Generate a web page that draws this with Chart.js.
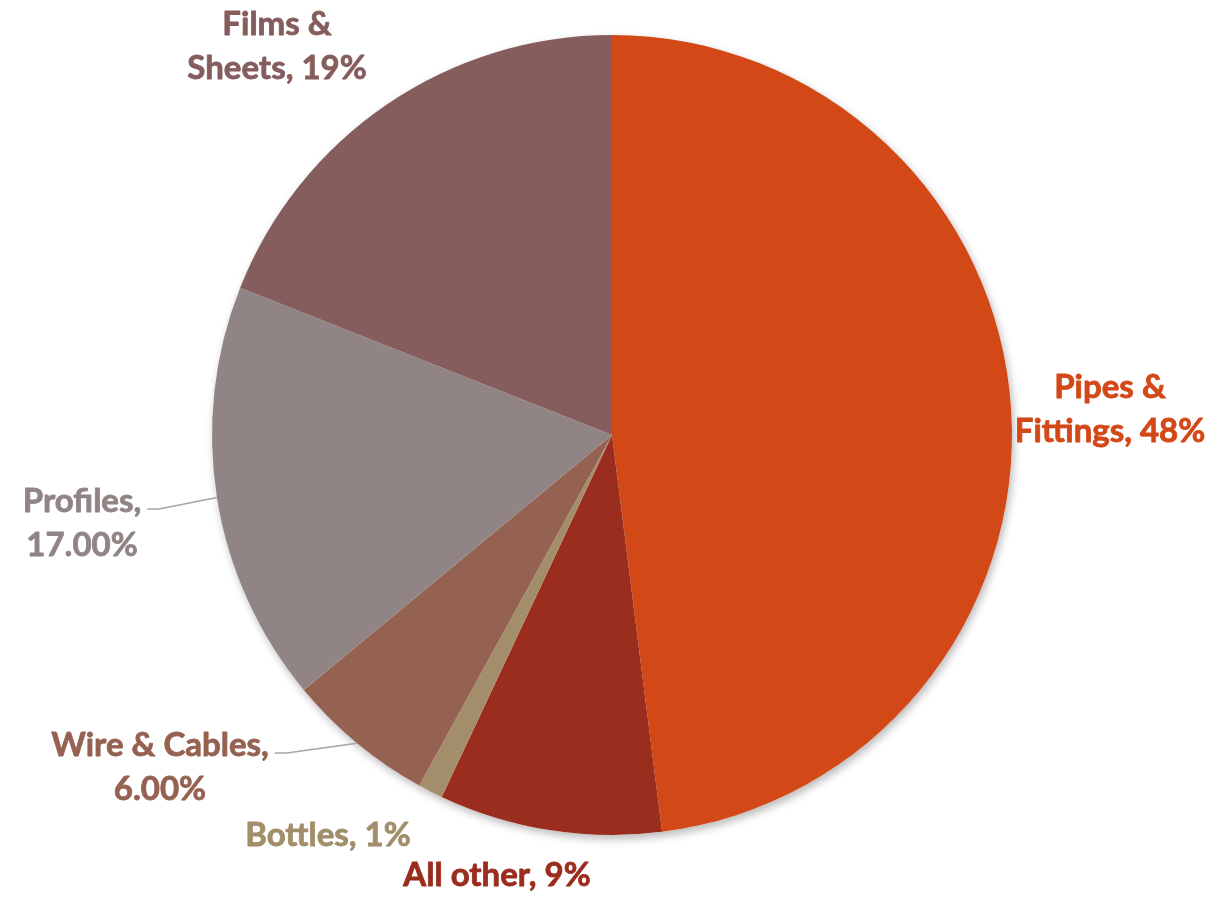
<!DOCTYPE html>
<html>
<head>
<meta charset="utf-8">
<title>PVC demand by application</title>
<script src="https://cdn.jsdelivr.net/npm/chart.js@4.4.0/dist/chart.umd.min.js"></script>
<style>
    html, body { margin: 0; padding: 0; background: #ffffff; }
    #wrap { width: 1230px; height: 900px; position: relative; }
</style>
</head>
<body>
<div id="wrap"><canvas id="pieChart" width="1230" height="900"></canvas></div>
<script>
// Chart data
const categories = ["Pipes & Fittings", "All other", "Bottles", "Wire & Cables", "Profiles", "Films & Sheets"];
const shares = [48, 9, 1, 6, 17, 19];
const shareLabels = ["48%", "9%", "1%", "6.00%", "17.00%", "19%"];
const sliceColors = ["#D34817", "#9B2D1F", "#A28E6A", "#956251", "#918485", "#855D5D"];

// label layout: text lines, centre x, first baseline y, leader line or not
const labelLayout = [
    { lines: ["Pipes &", "Fittings, 48%"], x: 1110, y: 398, leader: false },
    { lines: ["All other, 9%"], x: 497, y: 886, leader: false },
    { lines: ["Bottles, 1%"], x: 328, y: 846, leader: false },
    { lines: ["Wire & Cables,", "6.00%"], x: 160, y: 756, leader: true },
    { lines: ["Profiles,", "17.00%"], x: 82, y: 512, leader: true },
    { lines: ["Films &", "Sheets, 19%"], x: 277, y: 35, leader: false },
];

const FONT = "bold 33px Lato, 'Open Sans', sans-serif";
const LINE_H = 44;

// white disc with soft shadow behind the pie
const shadowPlugin = {
    id: "pieShadow",
    beforeDatasetsDraw(chart) {
        const arc = chart.getDatasetMeta(0).data[0];
        if (!arc) return;
        const ctx = chart.ctx;
        ctx.save();
        ctx.shadowColor = "rgba(0,0,0,0.28)";
        ctx.shadowBlur = 9;
        ctx.shadowOffsetX = 2;
        ctx.shadowOffsetY = 4;
        ctx.fillStyle = "#ffffff";
        ctx.beginPath();
        ctx.arc(arc.x, arc.y, arc.outerRadius, 0, Math.PI * 2);
        ctx.fill();
        ctx.restore();
    }
};

// outside labels with leader lines
const labelPlugin = {
    id: "outsideLabels",
    afterDatasetsDraw(chart) {
        const ctx = chart.ctx;
        const meta = chart.getDatasetMeta(0);
        ctx.save();
        ctx.font = FONT;
        ctx.textAlign = "center";
        ctx.textBaseline = "alphabetic";
        ctx.lineJoin = "round";
        meta.data.forEach((arc, i) => {
            const lay = labelLayout[i];
            ctx.fillStyle = sliceColors[i];
            ctx.strokeStyle = sliceColors[i];
            ctx.lineWidth = 0.8;
            lay.lines.forEach((t, k) => {
                ctx.fillText(t, lay.x, lay.y + k * LINE_H);
                ctx.strokeText(t, lay.x, lay.y + k * LINE_H);
            });
            if (lay.leader) {
                const mid = (arc.startAngle + arc.endAngle) / 2;
                const ex = arc.x + Math.cos(mid) * arc.outerRadius;
                const ey = arc.y + Math.sin(mid) * arc.outerRadius;
                const w = ctx.measureText(lay.lines[0]).width;
                const sx = lay.x + w / 2 + 6;
                const sy = lay.y - 3;
                ctx.strokeStyle = "#A6A6A6";
                ctx.lineWidth = 1.5;
                ctx.beginPath();
                ctx.moveTo(sx, sy);
                ctx.lineTo(sx + 12, sy);
                ctx.lineTo(ex, ey);
                ctx.stroke();
            }
        });
        ctx.restore();
    }
};

new Chart(document.getElementById("pieChart"), {
    type: "pie",
    data: {
        labels: categories,
        datasets: [
            {
                data: shares,
                backgroundColor: sliceColors,
                borderWidth: 0,
            },
        ],
    },
    options: {
        responsive: false,
        animation: false,
        layout: {
            padding: { top: 35, bottom: 65, left: 212, right: 218 },
        },
        plugins: {
            legend: { display: false },
            tooltip: { enabled: false },
        },
    },
    plugins: [shadowPlugin, labelPlugin],
});
</script>
</body>
</html>
